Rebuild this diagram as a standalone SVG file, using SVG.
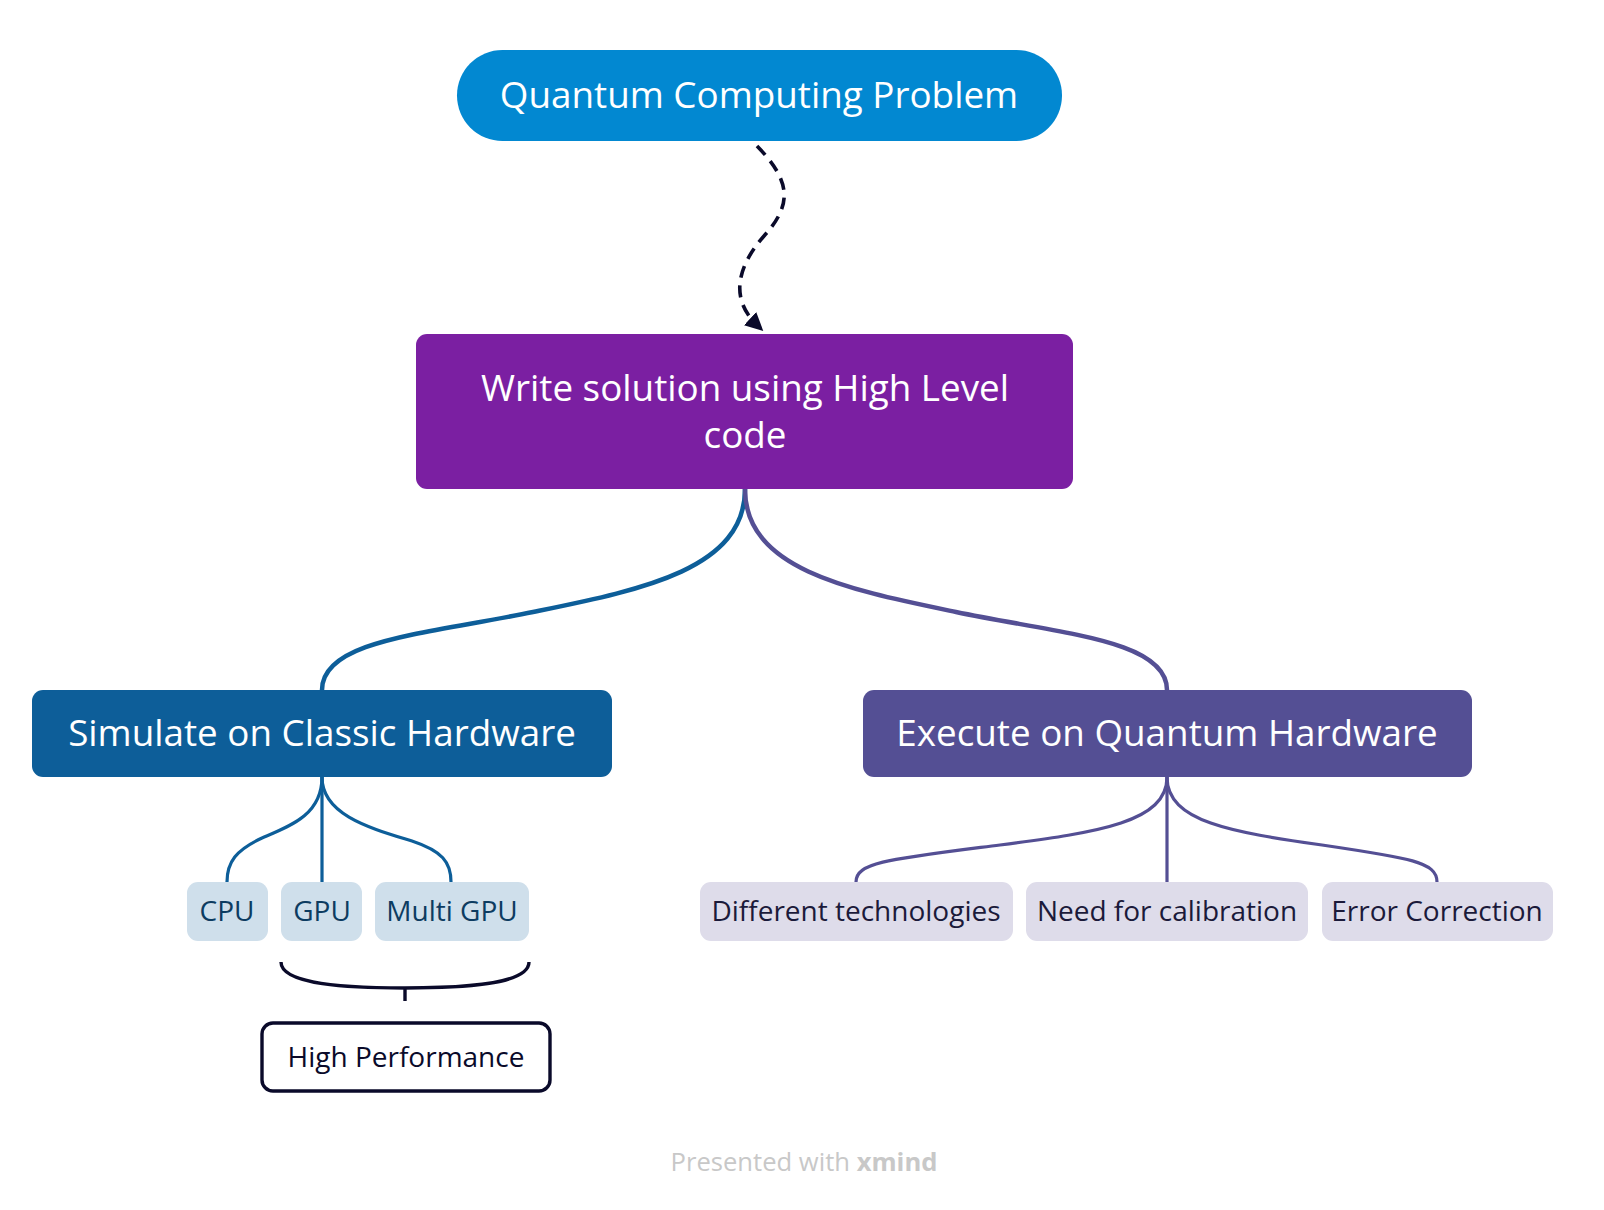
<svg xmlns="http://www.w3.org/2000/svg" width="1604" height="1210" viewBox="0 0 1604 1210">
<defs>
<style>
.t{font-family:"Open Sans","Liberation Sans",sans-serif;text-anchor:middle}
.big{font-size:36.8px;fill:#ffffff}
.small{font-size:28px}
.blue{fill:#0d3c61}
.lav{fill:#1b1a3a}
.cb{fill:none;stroke:#0d5e99}
.cp{fill:none;stroke:#544f94}
</style>
<marker id="ah" viewBox="0 0 10 10" refX="6" refY="5" markerWidth="5" markerHeight="5" orient="auto" markerUnits="strokeWidth">
<path d="M0,0 L10,5 L0,10 Z" fill="#0a0a2a"/>
</marker>
</defs>
<rect width="1604" height="1210" fill="#ffffff"/>
<g id="connectors">
<path d="M757,146 C792,182 792,205 764,236 C736,268 730,300 758,326" fill="none" stroke="#0a0a2a" stroke-width="3.6" stroke-dasharray="12 8" marker-end="url(#ah)"/>
<path class="cb" stroke-width="4.5" d="M745,489 C745,570 640,590 533,612 C426,634 322,640 322,690"/>
<path class="cp" stroke-width="4.5" d="M745,489 C745,570 850,590 956,612 C1062,634 1167,640 1167,690"/>
<path class="cb" stroke-width="3.2" d="M322,777 C322,815 290,826 262,838 C236,850 227,862 227,882"/>
<path class="cb" stroke-width="3.2" d="M322,777 V882"/>
<path class="cb" stroke-width="3.2" d="M322,777 C322,815 370,828 412,841 C442,851 451,862 451,882"/>
<path class="cp" stroke-width="3.2" d="M1167,777 C1167,822 1100,832 1000,845 C890,859 856,862 856,882"/>
<path class="cp" stroke-width="3.2" d="M1167,777 V882"/>
<path class="cp" stroke-width="3.2" d="M1167,777 C1167,822 1232,832 1322,845 C1410,858 1437,862 1437,882"/>
<path d="M281,962 C281,985 350,988 405,988 C460,988 529,985 529,962 M405,988 V1001" fill="none" stroke="#0a0a2a" stroke-width="3.4"/>
</g>
<g id="root">
<rect x="457" y="50" width="605" height="91" rx="45.5" fill="#0288d1"/>
<text class="t big" x="759" y="108">Quantum Computing Problem</text>
</g>
<g id="write">
<rect x="416" y="334" width="657" height="155" rx="11" fill="#7b1fa2"/>
<text class="t big" x="745" y="401">Write solution using High Level</text>
<text class="t big" x="745" y="448">code</text>
</g>
<g id="simulate">
<rect x="32" y="690" width="580" height="87" rx="11" fill="#0d5e99"/>
<text class="t big" x="322" y="746">Simulate on Classic Hardware</text>
</g>
<g id="execute">
<rect x="863" y="690" width="609" height="87" rx="11" fill="#544f94"/>
<text class="t big" x="1167" y="746">Execute on Quantum Hardware</text>
</g>
<g id="cpu">
<rect x="187" y="882" width="81" height="59" rx="11" fill="#cfdfeb"/>
<text class="t small blue" x="227" y="921">CPU</text>
</g>
<g id="gpu">
<rect x="281" y="882" width="81" height="59" rx="11" fill="#cfdfeb"/>
<text class="t small blue" x="322" y="921">GPU</text>
</g>
<g id="multigpu">
<rect x="375" y="882" width="154" height="59" rx="11" fill="#cfdfeb"/>
<text class="t small blue" x="452" y="921">Multi GPU</text>
</g>
<g id="different">
<rect x="700" y="882" width="313" height="59" rx="11" fill="#dedcea"/>
<text class="t small lav" x="856" y="921">Different technologies</text>
</g>
<g id="calibration">
<rect x="1026" y="882" width="282" height="59" rx="11" fill="#dedcea"/>
<text class="t small lav" x="1167" y="921">Need for calibration</text>
</g>
<g id="error">
<rect x="1322" y="882" width="231" height="59" rx="11" fill="#dedcea"/>
<text class="t small lav" x="1437" y="921">Error Correction</text>
</g>
<g id="highperf">
<rect x="262" y="1023" width="288" height="68" rx="11" fill="#ffffff" stroke="#0a0a2a" stroke-width="3.4"/>
<text class="t small" x="406" y="1067" fill="#0a0a2a">High Performance</text>
</g>
<g id="footer">
<text class="t" x="804" y="1171" font-size="25.6" fill="#c8c8c8">Presented with <tspan font-weight="bold">xmind</tspan></text>
</g>
</svg>
